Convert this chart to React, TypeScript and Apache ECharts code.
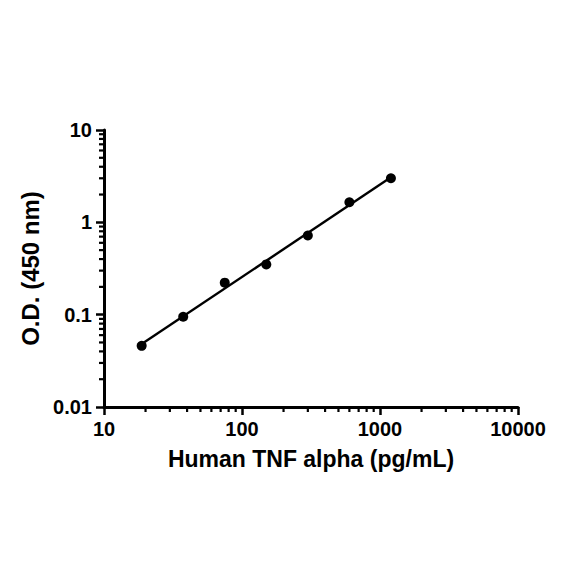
import React, { useEffect, useRef } from "react";
import * as echarts from "echarts";

const concentration = [18.75, 37.5, 75, 150, 300, 600, 1200];
const od = [0.046, 0.095, 0.222, 0.35, 0.72, 1.65, 3.0];
const fitX = [18.75, 1200];
const fitY = [0.048, 3.07];
const xMajor = [10, 100, 1000, 10000];
const yMajor = [0.01, 0.1, 1, 10];
const minorMultipliers = [2, 3, 4, 5, 6, 7, 8, 9];

const FONT = "Liberation Sans, Arial, sans-serif";

export default function App() {
  const ref = useRef<HTMLDivElement>(null);
  useEffect(() => {
    if (!ref.current) return;
    const chart = echarts.init(ref.current, null, { renderer: "svg" });
    const xMinor: number[] = [];
    xMajor.slice(0, -1).forEach((d) => minorMultipliers.forEach((m) => xMinor.push(d * m)));
    const yMinor: number[] = [];
    yMajor.slice(0, -1).forEach((d) => minorMultipliers.forEach((m) => yMinor.push(+(d * m).toPrecision(3))));
    const xMin = xMajor[0];
    const yMin = yMajor[0];
    const fmt = (v: number) => String(+v.toPrecision(3));
    chart.setOption({
      animation: false,
      backgroundColor: "#fff",
      grid: { left: 104, right: 66, top: 130, bottom: 177, containLabel: false },
      xAxis: {
        type: "log",
        logBase: 10,
        min: xMajor[0],
        max: xMajor[xMajor.length - 1],
        name: "Human TNF alpha (pg/mL)",
        nameLocation: "middle",
        nameGap: 40,
        nameTextStyle: { fontFamily: FONT, fontWeight: "bold", fontSize: 23, color: "#000" },
        axisLine: { lineStyle: { color: "#000", width: 3 } },
        axisTick: { inside: false, length: 8, lineStyle: { color: "#000", width: 2.5 } },
        axisLabel: { fontFamily: FONT, fontWeight: "bold", fontSize: 20, color: "#000", margin: 12, formatter: fmt },
        splitLine: { show: false },
        minorTick: { show: false },
      },
      yAxis: {
        type: "log",
        logBase: 10,
        min: yMajor[0],
        max: yMajor[yMajor.length - 1],
        name: "O.D. (450 nm)",
        nameLocation: "middle",
        nameGap: 62,
        nameTextStyle: { fontFamily: FONT, fontWeight: "bold", fontSize: 24, color: "#000" },
        axisLine: { lineStyle: { color: "#000", width: 3 } },
        axisTick: { inside: false, length: 8, lineStyle: { color: "#000", width: 2.5 } },
        axisLabel: {
          fontFamily: FONT,
          fontWeight: "bold",
          fontSize: 20,
          color: "#000",
          margin: 12,
          formatter: fmt,
        },
        splitLine: { show: false },
        minorTick: { show: false },
      },
      series: [
        {
          type: "custom",
          clip: false,
          silent: true,
          data: xMinor.map((v) => [v, yMin]),
          renderItem: (_p: any, api: any) => {
            const pt = api.coord([api.value(0), yMin]);
            return {
              type: "line",
              shape: { x1: pt[0], y1: pt[1], x2: pt[0], y2: pt[1] + 5 },
              style: { stroke: "#000", lineWidth: 2.2 },
            };
          },
        },
        {
          type: "custom",
          clip: false,
          silent: true,
          data: yMinor.map((v) => [xMin, v]),
          renderItem: (_p: any, api: any) => {
            const pt = api.coord([xMin, api.value(1)]);
            return {
              type: "line",
              shape: { x1: pt[0] - 5, y1: pt[1], x2: pt[0], y2: pt[1] },
              style: { stroke: "#000", lineWidth: 2.2 },
            };
          },
        },
        {
          type: "line",
          data: fitX.map((x, i) => [x, fitY[i]]),
          showSymbol: false,
          symbol: "none",
          lineStyle: { color: "#000", width: 2.4 },
          silent: true,
        },
        {
          type: "scatter",
          data: concentration.map((x, i) => [x, od[i]]),
          symbol: "circle",
          symbolSize: 10,
          itemStyle: { color: "#000", opacity: 1 },
        },
      ],
    });
    return () => chart.dispose();
  }, []);
  return <div ref={ref} style={{ width: 584, height: 584, position: "absolute", left: 0, top: 0 }} />;
}
